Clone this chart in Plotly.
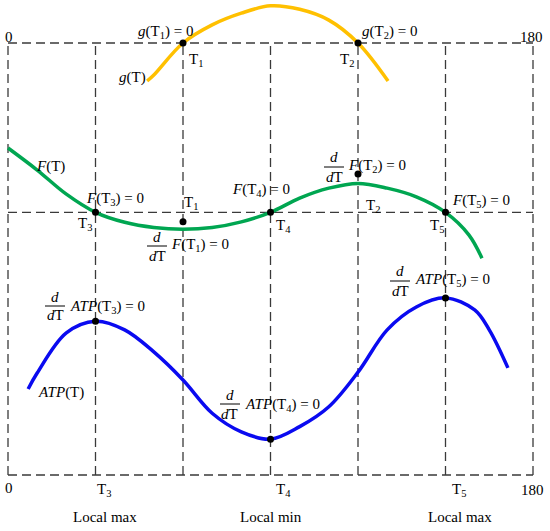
import plotly.graph_objects as go

# ---- data (x in degrees 0..180, y in arbitrary units: bottom line 0, top line 100)
grid_x = [0, 30, 60, 90, 120, 150, 180]
grid_y = [0, 60.8, 100]

g_x = [47.7, 50, 60, 70, 80, 90, 100, 110, 120, 130.3]
g_y = [91.2, 92.6, 100, 104.2, 106.9, 108.6, 107.8, 105.3, 100, 91.2]

F_x = [0, 10, 20, 30, 40, 50, 60, 70, 80, 90, 100, 110, 120, 130, 140, 150, 158, 162.5]
F_y = [75.7, 70.6, 65.0, 60.8, 58.5, 57.3, 56.9, 57.3, 58.6, 60.8, 64.1, 66.4, 67.5, 66.4, 64.4, 60.8, 55.6, 50.2]

ATP_x = [6.9, 10, 20, 30, 40, 50, 60, 70, 80, 90, 100, 110, 120, 130, 140, 150, 160, 165, 171.4]
ATP_y = [19.9, 23.6, 32.9, 35.6, 33.6, 28.5, 22.0, 14.3, 10.0, 8.3, 11.2, 15.8, 23.8, 33.6, 38.9, 41.0, 38.2, 33.6, 24.8]

dot_x = [60, 120, 30, 90, 150, 60, 120, 30, 90, 150]
dot_y = [100, 100, 60.8, 60.8, 60.8, 58.6, 69.7, 35.6, 8.3, 41.0]

W, H = 550, 531
PX_PER_X = 525 / 180.0
PX_PER_Y = 432 / 100.0
x_range = [-8 / PX_PER_X, 180 + 17 / PX_PER_X]
y_range = [-56 / PX_PER_Y, 100 + 43 / PX_PER_Y]

FONT = "Liberation Serif"
fig = go.Figure()

dash = dict(color="#3a3a3a", width=1.3, dash="9px,5px")
shapes = []
for gx in grid_x:
    shapes.append(dict(type="line", xref="x", yref="y", x0=gx, x1=gx, y0=grid_y[0], y1=grid_y[-1], line=dash, layer="below"))
for gy in grid_y:
    shapes.append(dict(type="line", xref="x", yref="y", x0=grid_x[0], x1=grid_x[-1], y0=gy, y1=gy, line=dash, layer="below"))

fig.add_trace(go.Scatter(x=g_x, y=g_y, mode="lines", line=dict(color="#FFC000", width=3.5, shape="spline", smoothing=1.0), hoverinfo="skip"))
fig.add_trace(go.Scatter(x=F_x, y=F_y, mode="lines", line=dict(color="#00A651", width=3.5, shape="spline", smoothing=1.0), hoverinfo="skip"))
fig.add_trace(go.Scatter(x=ATP_x, y=ATP_y, mode="lines", line=dict(color="#0A0AF0", width=3.5, shape="spline", smoothing=1.0), hoverinfo="skip"))
fig.add_trace(go.Scatter(x=dot_x, y=dot_y, mode="markers", marker=dict(color="black", size=7), hoverinfo="skip"))

ann = []
def txt(cx, cy, text, size=15, xanchor="center"):
    ann.append(dict(xref="paper", yref="paper", x=cx / W, y=1 - cy / H, text=text, showarrow=False,
                    xanchor=xanchor, yanchor="middle", font=dict(family=FONT, size=size, color="black")))

def frac(cx, ytop, ybar, ybot, half=10):
    txt(cx, ytop, "<i>d</i>")
    txt(cx, ybot, "<i>d</i>T")
    shapes.append(dict(type="line", xref="paper", yref="paper", x0=(cx - half) / W, x1=(cx + half) / W,
                       y0=1 - ybar / H, y1=1 - ybar / H, line=dict(color="black", width=1)))

txt(9, 37, "0")
txt(531, 37, "180")
txt(165, 32, "<i>g</i>(T<sub>1</sub>) = 0")
txt(196, 60, "T<sub>1</sub>")
txt(132, 78, "<i>g</i>(T)")
txt(389, 32, "<i>g</i>(T<sub>2</sub>) = 0")
txt(347, 60, "T<sub>2</sub>")

txt(50, 167, "<i>F</i>(T)")
txt(115, 199, "<i>F</i>(T<sub>3</sub>) = 0")
txt(85, 224, "T<sub>3</sub>")
txt(191, 203, "T<sub>1</sub>")
frac(157, 237, 246, 256)
txt(200, 245, "<i>F</i>(T<sub>1</sub>) = 0")
txt(261, 190, "<i>F</i>(T<sub>4</sub>) = 0")
txt(283, 226, "T<sub>4</sub>")
frac(334, 157, 167, 177)
txt(377, 166, "<i>F</i>(T<sub>2</sub>) = 0")
txt(373, 206, "T<sub>2</sub>")
txt(481, 201, "<i>F</i>(T<sub>5</sub>) = 0")
txt(437, 226, "T<sub>5</sub>")

frac(55, 297, 306, 315)
txt(107, 307, "<i>ATP</i>(T<sub>3</sub>) = 0")
txt(61, 392, "<i>ATP</i>(T)")
frac(230, 395, 404, 414)
txt(282, 405, "<i>ATP</i>(T<sub>4</sub>) = 0")
frac(400, 271, 281, 291)
txt(452, 280, "<i>ATP</i>(T<sub>5</sub>) = 0")

txt(9, 488, "0")
txt(104, 490, "T<sub>3</sub>")
txt(283, 490, "T<sub>4</sub>")
txt(459, 490, "T<sub>5</sub>")
txt(532, 490, "180")
txt(105, 517, "Local max")
txt(271, 517, "Local min")
txt(460, 517, "Local max")

fig.update_layout(
    width=W, height=H, margin=dict(l=0, r=0, t=0, b=0),
    paper_bgcolor="white", plot_bgcolor="white", showlegend=False,
    xaxis=dict(range=x_range, visible=False, fixedrange=True),
    yaxis=dict(range=y_range, visible=False, fixedrange=True),
    shapes=shapes, annotations=ann,
)
fig.write_html("out.html", config={"displayModeBar": False},
               post_script="document.body.style.margin='0';document.body.style.padding='0';document.body.style.overflow='hidden';")
